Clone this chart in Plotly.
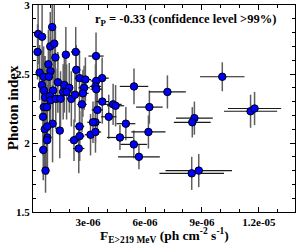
import plotly.graph_objects as go

# Flux (units of 1e-6 ph cm^-2 s^-1) and photon index, with errors
flux_e6 = [1.11, 0.37, 0.58, 0.34, 1.01, 1.22, 1.28, 1.83, 2.35, 3.42,
           0.91, 1.02, 0.45, 0.66, 0.94, 2.38, 2.55, 2.86, 3.74, 3.43,
           0.57, 1.41, 1.16, 1.75, 2.01, 1.69, 1.87, 2.79, 3.39, 3.43,
           2.73, 0.68, 0.74, 0.98, 1.02, 1.30, 1.55, 2.12, 2.31, 3.75,
           4.32, 4.45, 2.68, 0.67, 0.83, 3.49, 0.63, 4.09, 5.42, 6.23,
           1.13, 4.99, 7.18, 10.07, 8.60, 8.49, 11.56, 11.77, 6.18, 8.46,
           8.83, 0.72, 0.85, 1.51, 0.86, 0.84, 0.64, 0.76, 2.26, 2.51,
           2.56, 3.13, 3.39, 4.68, 5.41, 5.68, 3.39, 2.55, 3.26]
flux_err_e6 = [0.15, 0.10, 0.10, 0.08, 0.15, 0.15, 0.15, 0.20, 0.25, 0.40,
               0.12, 0.12, 0.08, 0.10, 0.12, 0.20, 0.25, 0.30, 0.35, 0.30,
               0.10, 0.15, 0.15, 0.20, 0.20, 0.20, 0.20, 0.30, 0.30, 0.30,
               0.30, 0.10, 0.10, 0.12, 0.12, 0.15, 0.18, 0.20, 0.20, 0.35,
               0.45, 0.45, 0.25, 0.10, 0.10, 0.30, 0.10, 0.40, 0.75, 0.70,
               0.12, 0.50, 0.97, 1.17, 0.97, 0.97, 1.40, 1.40, 0.90, 1.70,
               1.75, 0.10, 0.10, 0.15, 0.10, 0.10, 0.10, 0.10, 0.30, 0.30,
               0.25, 0.30, 0.30, 0.68, 0.70, 1.10, 0.30, 0.25, 0.30]
index = [2.84, 2.79, 2.77, 2.66, 2.70, 2.72, 2.62, 2.64, 2.66, 2.63,
         2.57, 2.52, 2.51, 2.48, 2.48, 2.53, 2.47, 2.46, 2.47, 2.45,
         2.42, 2.44, 2.38, 2.42, 2.40, 2.37, 2.37, 2.40, 2.41, 2.39,
         2.36, 2.38, 2.33, 2.34, 2.31, 2.32, 2.32, 2.32, 2.35, 2.30,
         2.28, 2.27, 2.28, 2.26, 2.26, 2.24, 2.19, 2.19, 2.41, 2.26,
         2.14, 2.14, 2.37, 2.48, 2.18, 2.15, 2.23, 2.25, 2.08, 1.78,
         1.80, 2.10, 2.12, 2.09, 2.04, 2.02, 1.95, 1.80, 2.02, 1.96,
         2.05, 2.06, 2.08, 2.04, 1.99, 1.90, 2.15, 2.12, 2.15]
index_err = [0.25, 0.22, 0.25, 0.20, 0.25, 0.28, 0.22, 0.20, 0.18, 0.17,
             0.25, 0.25, 0.20, 0.22, 0.25, 0.18, 0.18, 0.16, 0.15, 0.17,
             0.25, 0.22, 0.25, 0.20, 0.18, 0.20, 0.20, 0.16, 0.16, 0.16,
             0.17, 0.25, 0.30, 0.25, 0.25, 0.22, 0.20, 0.20, 0.20, 0.16,
             0.15, 0.15, 0.20, 0.30, 0.30, 0.17, 0.28, 0.16, 0.13, 0.12,
             0.28, 0.12, 0.12, 0.105, 0.12, 0.11, 0.12, 0.12, 0.12, 0.12,
             0.12, 0.30, 0.30, 0.20, 0.25, 0.25, 0.22, 0.16, 0.15, 0.18,
             0.18, 0.15, 0.15, 0.09, 0.10, 0.09, 0.15, 0.18, 0.15]

flux = [v * 1e-6 for v in flux_e6]
flux_err = [v * 1e-6 for v in flux_err_e6]

x_tickvals = [3e-06, 6e-06, 9e-06, 1.2e-05]
x_ticktext = ["3e-06", "6e-06", "9e-06", "1.2e-05"]
y_tickvals = [1.5, 2, 2.5, 3]
y_ticktext = ["1.5", "2", "2.5", "3"]

serif = "Liberation Serif"

fig = go.Figure()
# vertical error bars (grey)
fig.add_trace(go.Scatter(
    x=flux, y=index, mode="markers",
    marker=dict(size=1, color="rgba(0,0,0,0)"),
    error_y=dict(type="data", array=index_err, color="#5e5e5e", thickness=1.5, width=0),
    hoverinfo="skip", showlegend=False))
# horizontal error bars (dark)
fig.add_trace(go.Scatter(
    x=flux, y=index, mode="markers",
    marker=dict(size=1, color="rgba(0,0,0,0)"),
    error_x=dict(type="data", array=flux_err, color="#1a1a1a", thickness=1.2, width=0),
    hoverinfo="skip", showlegend=False))
fig.add_trace(go.Scatter(
    x=flux, y=index, mode="markers",
    marker=dict(size=7.5, color="#0000ff", line=dict(color="black", width=1)),
    showlegend=False))

axis_common = dict(showline=True, linecolor="black", linewidth=1, mirror="ticks",
                   ticks="inside", ticklen=5, tickcolor="black", showgrid=False,
                   zeroline=False, automargin=False, ticklabeloverflow="allow",
                   tickfont=dict(family=serif, size=11, color="black", weight="bold"))

fig.update_xaxes(range=[0.1e-6, 13.9e-6], tickvals=x_tickvals, ticktext=x_ticktext,
                 minor=dict(dtick=1e-6, ticks="inside", ticklen=3, tickcolor="black"),
                 **axis_common)
fig.update_yaxes(range=[1.5, 3], tickvals=y_tickvals, ticktext=y_ticktext,
                 minor=dict(dtick=0.1, ticks="inside", ticklen=3, tickcolor="black"),
                 **axis_common)

fig.add_annotation(xref="paper", yref="paper", x=0.5, y=-0.112, xanchor="center", yanchor="middle",
                   text="F<sub>E&gt;219 MeV</sub> (ph cm<sup>-2</sup> s<sup>-1</sup>)", showarrow=False,
                   font=dict(family=serif, size=13.5, color="black", weight="bold"))
fig.add_annotation(xref="paper", yref="paper", x=-0.076, y=0.502, xanchor="center", yanchor="middle",
                   text="Photon index", textangle=-90, showarrow=False,
                   font=dict(family=serif, size=15, color="black", weight="bold"))
fig.add_annotation(xref="paper", yref="paper", x=0.935, y=0.928, xanchor="right", yanchor="middle",
                   text="r<sub>P</sub> = -0.33 (confidence level &gt;99%)", showarrow=False,
                   font=dict(family=serif, size=12.5, color="black", weight="bold"))

fig.update_layout(template="none", width=297, height=247, margin=dict(l=33, r=2, t=5, b=35),
                  paper_bgcolor="white", plot_bgcolor="white")

fig.write_html("out.html", config={"displayModeBar": False},
               post_script="document.body.style.margin='0';document.body.style.padding='0';")
